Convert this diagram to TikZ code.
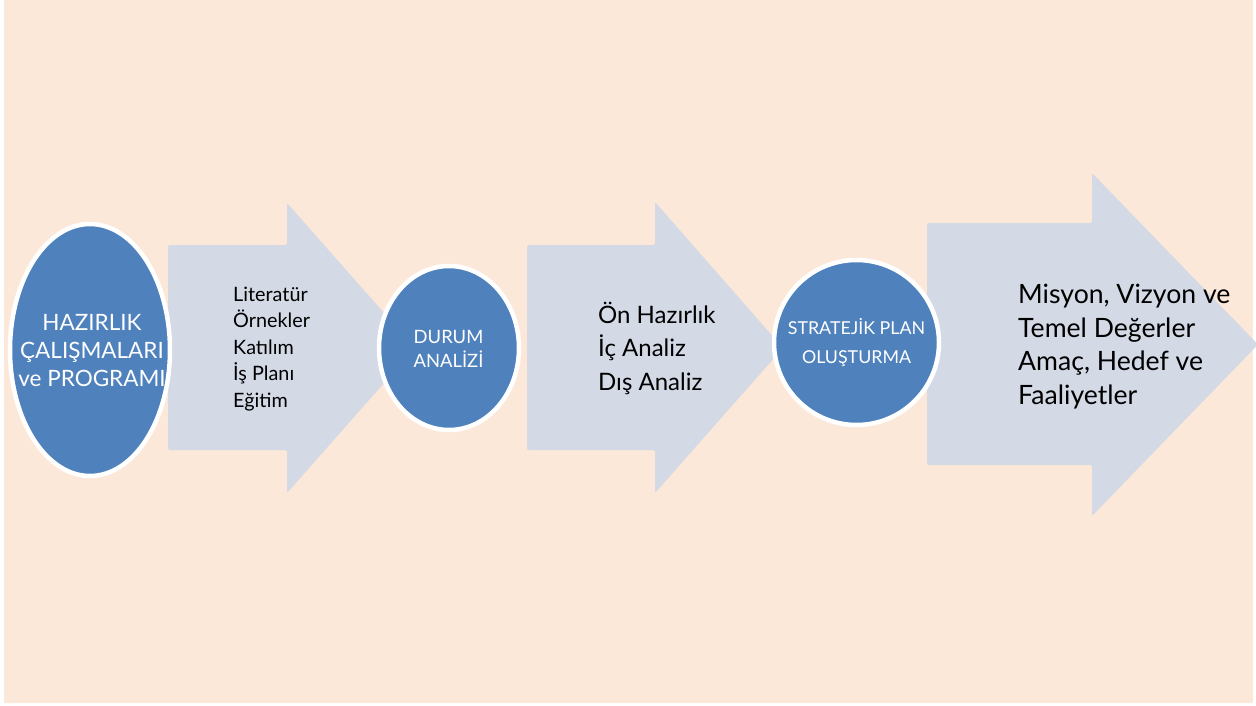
\documentclass[tikz,border=0pt]{standalone}
\usepackage{fontspec}
\setmainfont{Lato}
\definecolor{peach}{HTML}{FCE8D9}
\definecolor{arrowfill}{HTML}{D3D9E5}
\definecolor{circblue}{HTML}{4F81BD}
\tikzset{
  bigarrow/.style={fill=arrowfill, rounded corners=2pt},
  blob/.style={fill=circblue, draw=white, line width=4.5pt},
  whitetxt/.style={text=white, align=center, inner sep=0pt},
  darktxt/.style={text=black, align=left, inner sep=0pt, anchor=west},
}
\begin{document}
\begin{tikzpicture}[x=1pt,y=-1pt]
\useasboundingbox (0,0) rectangle (1256,706);
\fill[white] (0,0) rectangle (1256,706);
\fill[peach] (4,0) rectangle (1253,703);
% arrows
\fill[bigarrow] (168,245) -- (287,245) -- (287,203) -- (415,348) -- (287,493) -- (287,450) -- (168,450) -- cycle;
\fill[bigarrow] (527,245) -- (655,245) -- (655,202) -- (783,348) -- (655,493) -- (655,450) -- (527,450) -- cycle;
\fill[bigarrow] (927,223) -- (1092,223) -- (1092,173) -- (1258,344.5) -- (1092,516) -- (1092,465) -- (927,465) -- cycle;
% circles
\draw[blob] (90,350) ellipse [x radius=80, y radius=126];
\draw[blob] (449,348) ellipse [x radius=70, y radius=82];
\draw[blob] (856.5,342.5) ellipse [x radius=82.5, y radius=82.5];
% texts
\node[whitetxt, font=\fontsize{22.5}{28}\selectfont] (c1) at (92,351) {HAZIRLIK\\ÇALIŞMALARI\\ve PROGRAMI};
\node[whitetxt, font=\fontsize{18.4}{24}\selectfont] (c2) at (448.5,349) {DURUM\\ANALİZİ};
\node[whitetxt, font=\fontsize{17.8}{29}\selectfont] (c3) at (856.5,342.7) {STRATEJİK PLAN\\OLUŞTURMA};
\node[darktxt, font=\fontsize{19.8}{26.5}\selectfont] (a1) at (233,349) {Literatür\\Örnekler\\Katılım\\İş Planı\\Eğitim};
\node[darktxt, font=\fontsize{24}{33.5}\selectfont] (a2) at (598,348) {Ön Hazırlık\\İç Analiz\\Dış Analiz};
\node[darktxt, font=\fontsize{26.6}{33.7}\selectfont] (a3) at (1018,346.5) {Misyon, Vizyon ve\\Temel Değerler\\Amaç, Hedef ve\\Faaliyetler};
\end{tikzpicture}
\end{document}
